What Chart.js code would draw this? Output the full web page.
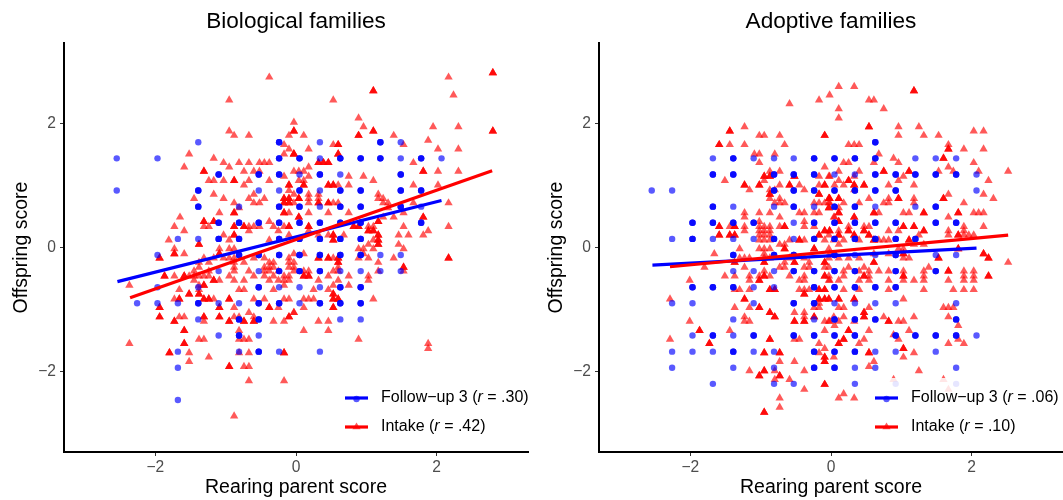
<!DOCTYPE html>
<html><head><meta charset="utf-8">
<script src="https://cdn.jsdelivr.net/npm/chart.js@4"></script>
<style>
html,body{margin:0;padding:0;background:#fff;width:1063px;height:500px;overflow:hidden}
canvas{position:absolute;top:0}
#c1{left:0}#c2{left:535px}
</style></head><body>
<canvas id="c1" width="533" height="500"></canvas>
<canvas id="c2" width="533" height="500"></canvas>
<script>
const tickValues=[-2,0,2];
const panelTitles=["Biological families","Adoptive families"];
const xTitle="Rearing parent score";
const yTitle="Offspring score";
const seriesNames=["Follow\u2212up 3","Intake"];
const bioR=[".30",".42"];
const adoR=[".06",".10"];

// rows: [y, x, x, ...]
const bioFollowLight=[[1.70,-1.39,.34,1.49],[1.44,-2.55,-1.97,.34,1.49,2.07],[1.18,.05,.63],[.92,-2.55,-.53,-.24,.34],[.66,-.81,.34,1.78],[.14,-1.68,-1.39],[-.12,-1.97,1.2,1.49],[-.38,-1.10,-.53,.63,.92,1.2,1.49],[-.64,-1.97,-1.39,-.24,.05,.34],[-.90,-2.26,-1.97,-1.68,-1.10,-.81,.05],[-1.16,-1.39,.63,.92],[-1.42,-1.10,-.53],[-1.68,-1.68,-.81,-.24,.34],[-1.94,-1.68],[-2.46,-1.68]];
const bioFollowDark=[[1.70,-.24,1.2],[1.44,-.24,.05,.63,.92,1.2,1.78],[1.18,-1.10,-.53,-.24,.34,1.49],[.92,-1.39,.05,.63,.92,1.49,1.78],[.66,-1.39,-.24,.05,.63,.92,1.49],[.40,-1.10,-.81,-.53,-.24,.05,.34,.63,.92,1.78],[.14,-1.10,-.81,-.24,.05,.34,.63,.92],[-.12,-.81,-.53,-.24,.05,.34,.63,.92],[-.38,-.24,.05,.34],[-.64,-.53,.63,.92],[-.90,-1.39,-.53,-.24,.34,.63,.92],[-1.16,-.81,-.53],[-1.42,-.81],[-1.68,-.53]];
const bioIntakeLight=[[2.75,-.38,2.17],[2.46,2.24],[2.38,-.95,.53],[2.09,.89],[2.02,-.03],[1.95,.96,1.95,2.31],[1.88,-.95],[1.81,-.88,-.67,-.10,.11,1.39],[1.73,1.88],[1.66,-.17,.53,1.53],[1.59,-.10,.18,2.02,2.31],[1.51,-1.52,-.17,-.03],[1.44,-1.17],[1.37,-1.03,-.81,-.67,-.52,-.45,-.38,1.67],[1.30,-1.59,-.95,.18],[1.23,-.74,-.60,-.52,-.03,.04,.11,2.02,2.31],[1.15,-.17,.18,.75,.96],[1.08,-1.24,-1.17,-1.03,-.67,-.38,.04,.11,1.10],[1.01,-.74,.60,.75,1.67,2.02],[.92,-.10],[.86,-1.17,-.60,-.03,.18,.32,1.17],[.79,-1.45,-1.03,-.67,-.45,.04,.18,.32,1.17,1.24],[.72,-.88,-.60,-.52,-.03,.18,.53,.60,1.24,1.31,1.67,2.17],[.64,-.81,1.31],[.56,-1.09,-.10,.18,.46,.75,1.53],[.49,-1.65,1.24,1.39],[.42,-.38],[.34,-1.73,-1.31,-1.24,-.67,-.60,-.52,-.32,-.17,1.03,1.10,1.53,2.17],[.27,-1.59,-.67,-.25,.18,1.88],[.20,-1.03,-.10,.32,.46,.68,1.46,1.60,1.81],[.12,-1.81,-.95,-.38,1.10],[.05,1.03,1.46],[-.02,-1.73,-1.09,-.95,-.88,.89,.96,1.10,1.53],[-.10,-1.59,-.03,.11,.96],[-.17,-1.31,-1.17,-1.03,-.95,-.88,-.60,-.45,-.10,.53,.89,1.03,1.39],[-.24,-1.38,-1.24,-.88,-.74,-.38,-.32,-.10,-.03,1.17],[-.32,-1.38,-.88,-.45,-.38,-.32,-.10,-.03,.60],[-.38,-1.45,-1.24,-.88,-.67,-.45,-.38,-.25,-.03,.11,.18,.53,.60,1.17,1.53],[-.46,-1.73,-1.52,-1.45,-1.38,-1.31,-1.24,-.95,-.60,-.45,-.32,-.17,-.10,.46,.75,1.03],[-.53,-1.45,-1.09,-.88,-.74,-.38,-.25,-.17,-.10,.32,.60,1.03],[-.61,-2.37,-1.38,-.17,.53,.75],[-.68,-1.66,-1.38,-.81,-.74,-.32,.25,.46],[-.83,-1.73,-1.17,-.60,-.45,-.17,-.10,.11,.18,.25,1.10],[-.97,-.88,-.25,.11],[-1.05,-.67,-.03,-.03],[-1.12,-1.66,-1.59,-.88,-.81,-.60],[-1.19,-1.31,-.32,-.17,.32,.46],[-1.34,-.81,.11,.46],[-1.48,-1.38,-1.31,-.81,-.74,-.67,.89],[-1.55,-2.37,1.88],[-1.63,1.88],[-1.70,-1.52,-.81,-.67],[-1.77,-1.24],[-1.84,-1.52],[-1.92,-.74,-.67],[-2.15,-.67,-.17],[-2.72,-.88]];
const bioIntakeDark=[[2.82,2.80],[2.53,1.10],[1.88,-.03,1.10,2.80],[1.81,.89],[1.66,.60],[1.51,-.03,.60],[1.37,.32,.39,.46],[1.23,-1.31,1.81],[1.08,-.88],[1.01,-.10,.11,.46,.53],[.79,-.17,-.10,.04],[.72,-.17,-.10,.32,.46],[.56,-.88,-.17],[.49,.04,1.81],[.42,-1.31,-1.17,1.17],[.34,-.88,-.74,-.10,.18,.82,.89],[.27,1.03,1.10],[.20,-.88,.53,1.17],[.12,.53,1.17],[.05,-1.38,1.17],[-.10,-1.73,-1.09],[-.17,-1.94,.32,.46,.60,2.17],[-.24,.60],[-.32,1.53],[-.46,-1.87,-1.59,.11,.18],[-.53,-1.17],[-.61,-1.31],[-.75,-1.52,-1.38,.53],[-.83,-1.66,-1.31,-1.24,-.95,.53,.60],[-.97,-1.94,-1.09,-.38,.53],[-1.12,-1.94,-1.31,-1.09,-.10],[-1.19,-1.73,-.95,-.74,-.60],[-1.34,-1.59],[-1.55,-1.59],[-1.70,-1.80,-.17],[-1.92,-.95]];
const adoFollowLight=[[1.44,-1.68,-1.10,-.81,-.53,1.2,1.49,1.78],[1.18,.05,.34,2.07],[.92,-2.55,-2.26,2.07],[.66,-1.39,-.81,-.24,.63,1.2],[.40,-.53],[.14,-2.26,-1.68,-1.39,-1.10,-.53],[-.12,.34,.63,1.49,1.78],[-.38,-1.39,-1.10,-.81],[-.64,-1.10,-.81],[-.90,-2.26,-1.97,-1.10,.05,.34,.63,.92,1.78],[-1.16,-1.39,-.24],[-1.42,-1.97,-1.39,2.07],[-1.68,-2.26,-1.97,-1.68,-1.10,-.81,.63,.92,1.49],[-1.94,-2.26,-1.39,-.81,.34,.63,1.78],[-2.2,-1.68,-.81,-.53,.34,.92,1.78]];
const adoFollowDark=[[1.70,.63],[1.44,-1.39,-.24,.05,.34,.63],[1.18,-1.68,-1.39,-.81,-.53,-.24,.63,.92,1.2,1.49,1.78],[.92,-.81,-.53,-.24,.05,.34,.63,.92],[.66,-1.68,-.53,.05,.34,1.49],[.40,-1.97,-1.68,-1.39,-1.10,-.24,.05,.34,.63,.92,1.49,1.78],[.14,-1.97,-.81,-.24,.05,.34,.63,.92,1.2],[-.12,-1.39,-.81,-.53,.05,.92],[-.38,-.53,-.24,.05,.34,.92,1.49],[-.64,-1.97,-1.68,-1.39,-.24,.05,.34,.63,.92],[-.90,-.53,-.24],[-1.16,.05,.34,.63,1.78],[-1.42,-1.68,-1.10,-.53,-.24,.05,.34,.92,1.2,1.49,1.78],[-1.68,-1.39,-.24,.05,.34],[-1.94,-.24,.05]];
const adoIntakeLight=[[2.60,.11,.33],[2.46,-.02],[2.38,-.17,.54,.61],[2.32,-.59],[2.24,.11,.75],[2.09,.11],[1.95,-1.23,.96,1.25],[1.88,2.03,2.17],[1.81,-1.02,-.95,-.73,.96,1.32,1.53],[1.66,-1.44,-1.23,-.66,.25,.33,.40,1.67],[1.59,1.89,2.17],[1.51,-1.09,-1.02,-.80,.68],[1.44,.89],[1.37,-1.02,.18,.25,.61,.96,2.03],[1.30,-.09,1.67],[1.23,-.87,-.73,.11,.40,1.53,1.74,2.10,2.52],[1.15,-.17,-.02,-.03,.33,1.03],[1.08,-1.51,-.95,.11,.96,2.24],[1.01,-.73,-.45,-.17,.05,.18,.82,1.18],[.93,-1.16,-.87,-.80,-.38,.33],[.86,1.67,2.17],[.79,-.87,-.73,.54,.82,1.18,2.31],[.72,-.80,-.73,-.66,-.24,-.17,-.09,-.02,-.03,.18,.40,.75,.82,1.18,1.89],[.64,.11],[.56,-1.23,-1.02,-.87,-.45,-.38,-.24,-.17,.68,1.03,1.11,2.03,2.10,2.17],[.49,-1.23,-.73,.05,.04,1.67],[.42,-1.02,-.38],[.34,-1.44,-1.23,-1.02,-.95,-.87,-.73,-.38,-.24,.25,.47,.54,1.89,2.17],[.27,-1.23,-1.02,-.95,-.87,.11,.82,.96,1.67,1.89],[.20,-1.02,-.95,-.87,-.03,1.25,1.67,1.89,1.96,2.03],[.12,-1.02,-.95,-.87,-.59,-.38,-.09,.04,.18,.40,.68,.75,.82],[.05,-.73,-.66,.11,1.18,1.32],[-.02,-1.30,-1.02,-.95,-.87,-.03,.96,1.03],[-.10,-1.66,-.95,-.02,.61,.82],[-.17,-1.30,-1.23,-1.16,-.95,-.87,-.59,-.38,-.03,.11,.25,.40,1.03,1.11],[-.24,-.66,-.31,2.52],[-.32,-1.80,-1.23,-.73,-.66,-.38,-.31,-.09,-.03,.25,.47,1.39],[-.38,-.95,.18,.40,.54,.68,.82,1.03,1.32,1.89,2.03],[-.46,-1.51,-1.37,-1.16,-1.02,-.87,-.59,-.38,-.03,.18,.54,1.32,1.89,2.03],[-.53,-2.01,-1.16,-.45,-.38,-.02,-.03,.11,.40,.54,.82,1.03,1.18,1.32,1.67,1.89,2.03],[-.68,-1.37,-1.30,-1.16,-.45,-.38,-.31,.18,.40,.82,1.32,1.74,1.89,2.03],[-.83,-2.29,1.03],[-.90,-.17],[-.97,-1.37,-1.16,-.24,-.17,.11,.18,.54,1.60,1.67,1.74],[-1.05,-.52,-.38],[-1.12,-1.23,-.38,.04,.18,.75,1.18,1.67],[-1.19,-2.01,-1.23,-1.16,-.09,-.02,-.03,.11,.33,.96,1.03],[-1.26,.05,1.81],[-1.34,-1.44,-.09,.54,1.11],[-1.41,.89],[-1.48,-2.29,-.52,-.45,.47,.96,1.81],[-1.55,-.17,.40,1.67,1.89],[-1.63,-.09],[-1.70,-.17,1.18],[-1.77,.04,1.03],[-1.84,-.73,-.52,.61],[-1.92,.54],[-1.99,-1.16,-.80,-.38,1.25],[-2.13,-.80,-.59,.89,1.60],[-2.29,-.38,1.67],[-2.36,.18],[-2.43,-.73,.11,.33],[-2.58,-.73]];
const adoIntakeDark=[[2.53,1.18],[1.95,.54],[1.88,-1.44],[1.81,-.09],[1.66,-1.59],[1.59,1.67],[1.44,1.60],[1.23,.75,1.11],[1.15,-.95,-.87,-.52],[1.08,.25],[1.01,-1.23,-1.02,-.59,-.09,.33,.47],[.86,-.87,-.17],[.79,-.02,-.03,.11,.96,1.60],[.64,-.03],[.56,.11,.61,1.32,1.81],[.49,.33],[.42,.11],[.34,-1.59,-1.37,-.66,1.03,1.18],[.27,-.09,-.02,.25,.47,1.32],[.20,-1.59,-1.44,-1.37,-.17,.11,.33,.54,1.81],[.12,-.45,.61,1.11],[-.02,-.66,-.24,1.81],[-.10,1.03,2.17],[-.17,1.53,2.24],[-.24,-1.37,-.95,-.52,-.09,.61],[-.38,1.67],[-.46,-.95,-.09,.47,1.03,2.24],[-.53,-1.02],[-.68,-.87,-.80,-.17,-.09],[-.75,-.38],[-.83,-1.23,-.17,-.09,-.03,.11,.33],[-.97,-1.02],[-1.05,-.87,.47],[-1.12,-.80,-.24,.47],[-1.19,-.52,-.38,.82],[-1.34,-1.87,.25],[-1.48,-.87,.18],[-1.55,-1.73,.11],[-1.63,1.03],[-1.70,-.95,-.73,.54],[-1.77,-.09],[-1.84,-.09],[-1.99,-.95],[-2.07,-1.02,-.73],[-2.21,-.09],[-2.66,-.95]];

// fitted line end points
const bioFollowLineX=[-2.54,2.07], bioFollowLineY=[-.55,.76];
const bioIntakeLineX=[-2.36,2.79], bioIntakeLineY=[-.81,1.24];
const adoFollowLineX=[-2.54,2.07], adoFollowLineY=[-.285,-.01];
const adoIntakeLineX=[-2.29,2.52], adoIntakeLineY=[-.31,.20];

const FONT='"Liberation Sans", Arial, sans-serif';
const BLUE='rgba(0,0,255,0.65)',RED='rgba(255,0,0,0.65)';
function expand(rows){const o=[];rows.forEach(r=>r.slice(1).forEach(x=>o.push({x:x,y:r[0]})));return o;}
function points(light,dark){const d=expand(dark);return expand(light).concat(d,d,d);}
function line(xs,ys){return xs.map((x,i)=>({x:x,y:ys[i]}));}

const legendPlugin={id:'panelLegend',afterDatasetsDraw(chart,args,o){
  const c=chart.ctx;c.save();
  c.fillStyle='rgba(255,255,255,0.85)';
  c.fillRect(o.keyX-6,378,chart.width-o.keyX+6,66);
  const rows=[[398,'rgb(0,0,255)',BLUE,'circle',seriesNames[0]+' (',o.r[0]],[427,'rgb(255,0,0)',RED,'triangle',seriesNames[1]+' (',o.r[1]]];
  rows.forEach(r=>{
    c.strokeStyle=r[1];c.lineWidth=3.2;c.beginPath();c.moveTo(o.keyX,r[0]);c.lineTo(o.keyX+23,r[0]);c.stroke();
    c.fillStyle=r[2];c.beginPath();
    const mx=o.keyX+11.5;
    if(r[3]==='circle'){c.arc(mx,r[0]+1,3.2,0,Math.PI*2);}
    else{c.moveTo(mx,r[0]-4.5);c.lineTo(mx+4.1,r[0]+2.25);c.lineTo(mx-4.1,r[0]+2.25);c.closePath();}
    c.fill();
    c.fillStyle='#000';c.textBaseline='middle';c.textAlign='left';
    let x=o.keyX+36;
    [[r[4],''],['r','italic '],[' = '+r[5]+')','']].forEach(s=>{
      c.font=s[1]+'16px '+FONT;c.fillText(s[0],x,r[0]);x+=c.measureText(s[0]).width;
    });
  });
  c.restore();
}};

function axis(title,isX){
  return {type:'linear',min:-3.3,max:3.3,
    afterBuildTicks(s){s.ticks=tickValues.map(v=>({value:v}));},
    afterFit(s){if(isX)s.height=48;else s.width=64;s.paddingLeft=0;s.paddingRight=0;s.paddingTop=0;s.paddingBottom=0;},
    border:{display:true,color:'#000',width:2},
    grid:{display:true,drawOnChartArea:false,drawTicks:true,tickLength:4,tickColor:'#333',tickWidth:1},
    ticks:{color:'#4D4D4D',font:{family:FONT,size:15.6},padding:isX?2:4,maxRotation:0,autoSkip:false,
      callback:v=>String(v).replace('-','\u2212')},
    title:{display:true,text:title,color:'#000',font:{family:FONT,size:19.5,lineHeight:1.2},padding:isX?{top:0,bottom:1}:{top:10,bottom:0}}
  };
}
function make(id,title,keyX,r,fl,fd,il,id2,fLine,iLine){
  new Chart(document.getElementById(id),{
    type:'scatter',
    plugins:[legendPlugin],
    data:{datasets:[
      {data:line(iLine[0],iLine[1]),showLine:true,borderColor:'#f00',borderWidth:3.2,pointRadius:0,fill:false,tension:0,borderCapStyle:'butt'},
      {data:line(fLine[0],fLine[1]),showLine:true,borderColor:'#00f',borderWidth:3.2,pointRadius:0,fill:false,tension:0,borderCapStyle:'butt'},
      {data:points(fl,fd),pointStyle:'circle',pointRadius:3.2,borderWidth:0,backgroundColor:BLUE,showLine:false},
      {data:points(il,id2),pointStyle:'triangle',pointRadius:4.8,borderWidth:0,backgroundColor:RED,showLine:false}
    ]},
    options:{responsive:false,animation:false,devicePixelRatio:1,
      layout:{padding:{right:5}},
      scales:{x:axis(xTitle,true),y:axis(yTitle,false)},
      plugins:{legend:{display:false},tooltip:{enabled:false},
        title:{display:true,text:title,fullSize:false,color:'#000',font:{family:FONT,size:22.6,weight:'normal',lineHeight:1.2},padding:{top:8,bottom:8}},
        panelLegend:{keyX:keyX,r:r}}
    }
  });
}
make('c1',panelTitles[0],345,bioR,bioFollowLight,bioFollowDark,bioIntakeLight,bioIntakeDark,[bioFollowLineX,bioFollowLineY],[bioIntakeLineX,bioIntakeLineY]);
make('c2',panelTitles[1],340,adoR,adoFollowLight,adoFollowDark,adoIntakeLight,adoIntakeDark,[adoFollowLineX,adoFollowLineY],[adoIntakeLineX,adoIntakeLineY]);
</script></body></html>
